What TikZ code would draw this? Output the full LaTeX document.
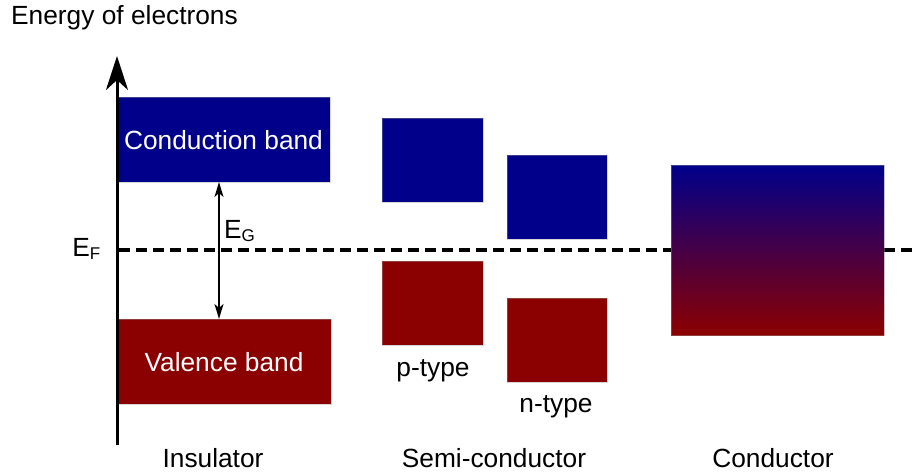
\documentclass[tikz,border=0pt]{standalone}
\usepackage{fontspec}
\setmainfont{Liberation Sans}
\usetikzlibrary{arrows.meta}
\definecolor{cband}{RGB}{0,0,139}
\definecolor{vband}{RGB}{139,0,0}
\begin{document}
\begin{tikzpicture}[x=1pt,y=-1pt,
  lbl/.style={font=\fontsize{26.3}{30}\selectfont, inner sep=0pt},
  bandbox/.style={draw=white!60!black, draw opacity=0.4, line width=0.5pt, inner sep=0pt, anchor=center},
  cbox/.style={bandbox, fill=cband},
  vbox/.style={bandbox, fill=vband}]
\useasboundingbox (0,0) rectangle (912,472);
% Fermi level
\coordinate (ef1) at (119,250);
\coordinate (ef2) at (912,250);
\draw[line width=3.5pt, dash pattern=on 11pt off 6pt] (ef1) -- (ef2);
% Insulator
\node[cbox, minimum width=213pt, minimum height=85pt] (insc) at (223.5,139.5) {};
\node[lbl, text=white] (insct) at (223.5,140) {Conduction band};
\node[vbox, minimum width=214pt, minimum height=85pt] (insv) at (224,361.5) {};
\node[lbl, text=white] (insvt) at (224,362) {Valence band};
% gap arrow
\coordinate (eg1) at (219,182);
\coordinate (eg2) at (219,319);
\draw[line width=1.6pt, {Stealth[length=15pt,width=9pt,inset=4pt]}-{Stealth[length=15pt,width=9pt,inset=4pt]}] (eg1) -- (eg2);
\node[lbl, anchor=west] (egt) at (224,231) {E\textsubscript{\fontsize{17}{20}\selectfont G}};
\node[lbl, anchor=east] (eft) at (101,249) {E\textsubscript{\fontsize{17}{20}\selectfont F}};
% axis
\coordinate (ax1) at (117,445);
\coordinate (ax2) at (117,56);
\draw[line width=3pt, -{Stealth[length=34pt,width=22pt,inset=10pt]}] (ax1) -- (ax2);
\node[lbl, anchor=west] (title) at (11,18) {Energy of electrons};
% Semiconductor
\node[cbox, minimum width=101pt, minimum height=84pt] (pc) at (432.5,160) {};
\node[vbox, minimum width=101pt, minimum height=84pt] (pv) at (432.5,303) {};
\node[cbox, minimum width=100pt, minimum height=84pt] (nc) at (557,197) {};
\node[vbox, minimum width=100pt, minimum height=84pt] (nv) at (557,340) {};
\node[lbl] (pt) at (433,371) {p-type};
\node[lbl] (nt) at (556,407) {n-type};
% Conductor
\node[bandbox, minimum width=213pt, minimum height=170pt, top color=cband, bottom color=vband] (cond) at (777.5,250) {};
% bottom labels
\node[lbl] (l1) at (213,458) {Insulator};
\node[lbl] (l2) at (494,458) {Semi-conductor};
\node[lbl] (l3) at (773,458) {Conductor};
\end{tikzpicture}
\end{document}
